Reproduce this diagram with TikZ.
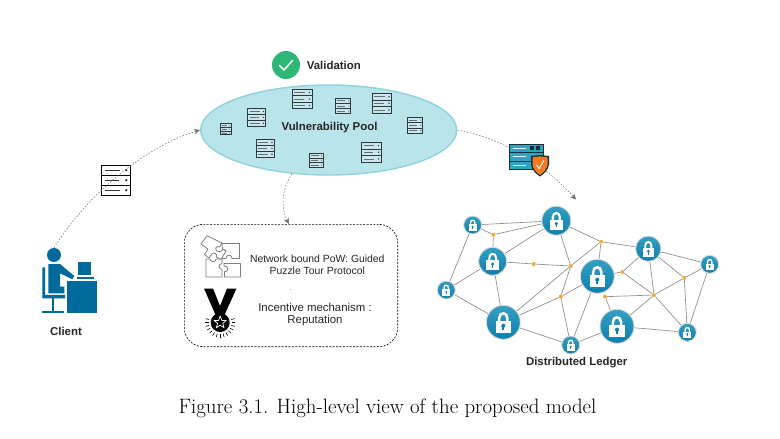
\documentclass[tikz,border=0pt]{standalone}
\usepackage{fontspec}
\usetikzlibrary{shapes.geometric,arrows.meta,backgrounds,shadings}
\newfontfamily\lsans{Liberation Sans}
\definecolor{poolfill}{HTML}{B8E4EA}
\definecolor{poolline}{HTML}{8ED3DD}
\definecolor{personblue}{HTML}{006A9A}
\definecolor{lockblue}{HTML}{0F7FAE}
\definecolor{lockblueT}{HTML}{349FC2}
\definecolor{junction}{HTML}{F2A93B}
\definecolor{edgegray}{HTML}{8C8C8C}
\definecolor{flowgray}{HTML}{707070}
\definecolor{srvdark}{HTML}{2B3A3E}
\definecolor{srvfill}{HTML}{CBE7EB}
\definecolor{srvbar}{HTML}{5F7478}
\definecolor{tealsrv}{HTML}{2FA5C0}
\definecolor{navy}{HTML}{12303C}
\definecolor{shieldor}{HTML}{F47A20}
\definecolor{okgreen}{HTML}{2DB877}
\definecolor{puzzlegray}{HTML}{7E7E7E}
\tikzset{
  x=1pt,y=-1pt,
  flow/.style={draw=flowgray,line width=.5pt,dash pattern=on 1.6pt off 1.6pt,-{Stealth[length=6pt,width=5.5pt,fill=flowgray]}},
  net/.style={draw=edgegray,line width=.65pt},
  junc/.style={circle,fill=junction,inner sep=0,minimum size=4pt},
  lockc/.style={circle,top color=lockblueT,bottom color=lockblue,draw=gray!28,line width=.9pt,inner sep=0},
  lbl/.style={font=\lsans\fontsize{10.4}{12}\selectfont,text=black!85,inner sep=0,align=center},
  lblb/.style={font=\lsans\fontsize{11.4}{12.4}\selectfont,text=black!85,inner sep=0,align=center},
  blbl/.style={font=\lsans\bfseries\fontsize{11.4}{13}\selectfont,text=black!85,inner sep=0,align=center},
  piece/.style={draw=puzzlegray,line width=.8pt,fill=white,line join=round},
  person/.style={fill=personblue,draw=none}
}
% name, x, y, w, h, border, fill, bars
\newcommand{\srvicon}[8]{%
  \node[rectangle,draw=#6,fill=#7,line width=.8pt,inner sep=0,minimum width={#4},minimum height={#5}] (#1) at (#2,#3) {};
  \begin{scope}[shift={(#2,#3)},xscale=#4,yscale=#5]
    \draw[#6,line width=.8pt] (-.5,-.167)--(.5,-.167) (-.5,.167)--(.5,.167);
    \draw[#8,line width=.9pt] (-.38,-.333)--(.16,-.333) (-.38,0)--(.10,0) (-.38,.333)--(.16,.333);
    \fill[#6] (.34,-.36) rectangle (.40,-.30) (.34,-.03) rectangle (.40,.03) (.34,.30) rectangle (.40,.36);
  \end{scope}}
% name, x, y, r
\newcommand{\lockcirc}[4]{%
  \node[lockc,minimum size={2*#4}] (#1) at (#2,#3) {};
  \begin{scope}[shift={(#2,#3)},scale=#4]
    \draw[white,line width={.15*#4}] (-.24,0) -- (-.24,-.25) .. controls (-.24,-.62) and (.24,-.62) .. (.24,-.25) -- (.24,0);
    \fill[white] (-.45,-.08) rectangle (.45,.62);
    \fill[lockblue] (0,.2) circle [radius=.12];
    \fill[lockblue] (-.05,.2) rectangle (.05,.46);
  \end{scope}}
\begin{document}
\begin{tikzpicture}
\useasboundingbox (0,0) rectangle (780,439);
\begin{pgfonlayer}{background}
  \fill[white] (0,0) rectangle (780,439);
\end{pgfonlayer}

% pool
\node[ellipse,draw=poolline,fill=poolfill,line width=1.4pt,inner sep=0,minimum width=256pt,minimum height=90pt] (pool) at (328.7,130) {};
\node[blbl] (poollabel) at (329.5,127.7) {Vulnerability Pool};
\srvicon{p1}{302}{99}{20}{19.5}{srvdark}{srvfill}{srvbar}
\srvicon{p2}{343}{106}{15.5}{15.5}{srvdark}{srvfill}{srvbar}
\srvicon{p3}{381.7}{103.3}{19.5}{20}{srvdark}{srvfill}{srvbar}
\srvicon{p4}{415}{125.3}{15.5}{16}{srvdark}{srvfill}{srvbar}
\srvicon{p5}{256.7}{117.3}{18}{18}{srvdark}{srvfill}{srvbar}
\srvicon{p6}{225.7}{129.3}{11}{11}{srvdark}{srvfill}{srvbar}
\srvicon{p7}{265.3}{148.3}{18}{18}{srvdark}{srvfill}{srvbar}
\srvicon{p8}{316.3}{160.3}{14}{14}{srvdark}{srvfill}{srvbar}
\srvicon{p9}{371.3}{152.3}{19.5}{20}{srvdark}{srvfill}{srvbar}

% validation
\node[circle,fill=okgreen,minimum size=28pt,inner sep=0] (okmark) at (286,65) {};
\draw[white,line width=1.5pt,line cap=round,line join=round] (279.5,65.5) -- (284,70) -- (292.5,60.5);
\node[blbl,anchor=west] (validation) at (306.7,65.5) {Validation};

% client
\fill[person] (54,255) circle [radius=7];
\node[inner sep=0,minimum size=14pt,circle] (client) at (54,255) {};
\fill[person] (48.3,264) -- (60,264) -- (74.3,276) -- (72.3,279.3) -- (60,273.3) -- (60,286.7) -- (64.3,286.7) -- (64.3,293.3) -- (48.3,293.3) -- cycle;
\fill[person] (42.3,267.3) -- (45,267.3) -- (45,294.8) -- (65,294.8) -- (65,298.3) -- (42.3,298.3) -- cycle;
\fill[person] (51.7,298.3) rectangle (53.7,311);
\fill[person] (41.7,310.7) rectangle (64.3,313.3);
\fill[person] (66.7,280.7) rectangle (96.7,312.9);
\fill[person] (77.7,262) rectangle (91,275);
\fill[person] (77,276.7) rectangle (93.7,279);
\node[blbl] (clientlabel) at (66,331) {Client};

% client to pool
\srvicon{carried}{115.7}{180.2}{28.5}{30.3}{black}{white}{srvdark}
\draw[flow] (client.north) .. controls (90,190) and (150,145) .. (pool.west);

% pool to ledger
\coordinate (ledgerin) at (576,199.5);
\draw[flow] (pool.east) .. controls (500,138) and (540,160) .. (ledgerin);
\node[rectangle,draw=navy,fill=tealsrv,line width=1pt,inner sep=0,minimum width=34pt,minimum height=25pt] (valid) at (526.3,156.8) {};
\draw[navy,line width=1pt] (509.3,152.6) -- (543.3,152.6) (509.3,161) -- (543.3,161);
\draw[white!85!tealsrv,line width=1pt] (513,148.5) -- (526,148.5) (513,156.8) -- (526,156.8) (513,165.2) -- (526,165.2);
\fill[navy] (530,146.2) rectangle (534,150.2) (536,146.2) rectangle (540,150.2);
\fill[navy] (531,156) -- (540,155) -- (549,156) -- (549,165) .. controls (548,170) and (544,174) .. (540,176.5) .. controls (536,174) and (532,170) .. (531,165) -- cycle;
\fill[shieldor] (532.5,157.3) -- (540,156.4) -- (547.5,157.3) -- (547.5,165) .. controls (546.6,169.5) and (543.5,172.6) .. (540,175) .. controls (536.5,172.6) and (533.4,169.5) .. (532.5,165) -- cycle;
\draw[white,line width=1pt] (536.5,165) -- (539,168.5) -- (544,160.5);

% box
\node[rectangle,rounded corners=19pt,draw=black,line width=.6pt,dash pattern=on 2pt off 1.4pt,inner sep=0,minimum width=213.4pt,minimum height=122.4pt] (box) at (291,285.5) {};
\draw[flow] (pool.230) .. controls (281,190) and (281,208) .. (box.92);
\node[lbl] (powtext) at (317.3,265.2) {Network bound PoW: Guided\\[-.1pt]Puzzle Tour Protocol};
\node[lblb] (inctext) at (315,314.5) {Incentive mechanism :\\[-.1pt]Reputation};
\fill[gray!60] (290.3,289) rectangle (291.1,289.8);

% puzzle
\draw[piece] (222,243.5) -- (239.5,243.5) -- (239.5,258.5) -- (232,258.5) .. controls (232,254) and (226,254) .. (226,258.5) -- (222.5,258.5) -- (222.5,254) .. controls (226,254) and (226,249) .. (222.5,249) -- cycle;
\draw[piece] (206,259) -- (210,259) .. controls (210,262.5) and (216,262.5) .. (216,259) -- (222,259) -- (222,263.5) .. controls (218,263.5) and (218,269.5) .. (222,269.5) -- (222,277) -- (206,277) -- cycle;
\draw[piece] (224,263.5) -- (240.5,263.5) -- (240.5,277) -- (224.5,277) -- (224.5,271.5) .. controls (229,273) and (229,265) .. (224,266) -- cycle;
\draw[piece] (201,244) -- (207,235.7) -- (222,243) -- (219.5,247) .. controls (217,245) and (214,249) .. (217,251) .. controls (220,253) and (222,250.5) .. (223,249.5) -- (226,251) -- (221,259.5) -- (216.5,257) .. controls (218,254) and (213,251) .. (211.5,254.5) -- (209,258) -- (204.5,254.5) -- (208,249) -- cycle;

% medal
\fill[black] (204,288.5) -- (213,288.5) -- (220,306) -- (227,288.5) -- (236.5,288.5) -- (224,316) -- (216,316) -- cycle;
\fill[black] (220.2,322.5) circle [radius=9.5];
\draw[white,line width=.7pt,line join=round] (220.2,316) -- (221.8,320.4) -- (226.4,320.5) -- (222.8,323.3) -- (224.1,327.8) -- (220.2,325.2) -- (216.3,327.8) -- (217.6,323.3) -- (214,320.5) -- (218.6,320.4) -- cycle;
\foreach \a in {-15,0,...,195}{
  \draw[black,line width=.6pt] ({220.2+11.5*cos(\a)},{322.5+11.5*sin(\a)}) -- ({220.2+15*cos(\a)},{322.5+15*sin(\a)});
}

% ledger
\lockcirc{A}{472.7}{225}{9}
\lockcirc{B}{556.3}{220.7}{14.5}
\lockcirc{C}{492.7}{261.3}{14}
\lockcirc{D}{446.3}{290}{9}
\lockcirc{E}{503.3}{322.3}{17}
\lockcirc{F}{597.3}{276.3}{17}
\lockcirc{G}{648.3}{248.7}{12.7}
\lockcirc{H}{709.7}{264.3}{9}
\lockcirc{I}{617}{326.3}{17}
\lockcirc{J}{687.3}{332.3}{9}
\lockcirc{K}{570.7}{345}{9}
\node[junc] (a) at (493.3,234.7) {};
\node[junc] (b) at (601,241.7) {};
\node[junc] (c) at (533.7,264) {};
\node[junc] (d) at (570.7,266) {};
\node[junc] (e) at (622.3,272) {};
\node[junc] (f) at (684.3,278) {};
\node[junc] (g) at (654,295) {};
\node[junc] (h) at (605,296.7) {};
\node[junc] (i) at (560.7,296.7) {};
\begin{pgfonlayer}{background}
  \foreach \p/\q in {A/B,A/a,a/B,a/C,C/B,A/D,C/D,C/c,c/d,B/d,B/b,b/G,b/F,E/d,d/b,d/i,i/K,i/E,i/F,E/C,E/D,E/K,K/F,K/I,I/h,h/g,I/g,g/e,e/F,e/G,G/g,G/f,G/H,f/H,f/g,f/J,g/J,H/J,I/J}{
    \draw[net] (\p) -- (\q);
  }
\end{pgfonlayer}
\node[blbl] (ledgerlabel) at (576.7,362.3) {Distributed Ledger};

% caption
\node[inner sep=0,font=\fontsize{20.85}{24}\selectfont,text=black] (caption) at (387.5,408) {Figure 3.1. High-level view of the proposed model};
\end{tikzpicture}
\end{document}
